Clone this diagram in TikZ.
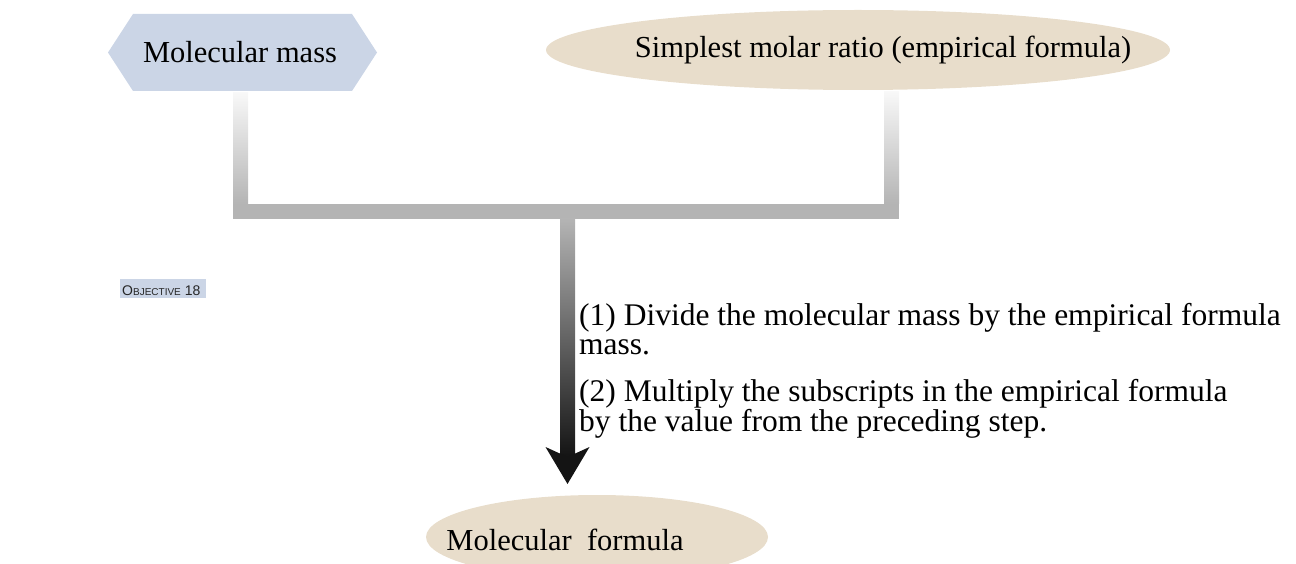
\documentclass[tikz,border=0pt]{standalone}
\usepackage{fontspec}
\setmainfont{Liberation Serif}
\newfontfamily\objfont{Liberation Sans}
\usetikzlibrary{shapes.geometric,calc}
\definecolor{hexblue}{HTML}{CBD5E6}
\definecolor{beige}{HTML}{E8DDCB}
\definecolor{bargray}{HTML}{B4B4B4}
\definecolor{barlight}{HTML}{F8F8F8}
\definecolor{arrowdark}{HTML}{141414}
\begin{document}
\begin{tikzpicture}[x=1pt,y=-1pt,
  lbl/.style={font=\fontsize{30.5}{34}\selectfont, inner sep=0pt, text=black},
  oval/.style={ellipse, fill=beige, inner sep=0pt},
  body/.style={font=\fontsize{31.5}{29.5}\selectfont, align=left, inner sep=0pt, anchor=base west, text=black}]
\useasboundingbox (0,0) rectangle (1296,564);
\clip (0,0) rectangle (1296,564);
% top-left hexagon
\fill[hexblue] (108,52.5) -- (133,14) -- (352,14) -- (377,52.5) -- (352,91) -- (133,91) -- cycle;
\node[lbl] (mm) at (240,52.5) {Molecular mass};
% top-right ellipse
\node[oval, minimum width=624, minimum height=80] (sr) at (858,50) {};
\node[lbl] (srt) at (883,50) {Simplest molar ratio (empirical formula)};
% bottom ellipse
\node[oval, minimum width=342, minimum height=84] (mf) at (597,537) {};
\node[lbl] (mft) at (565,540) {Molecular\ \ formula};
% connector coordinates
\coordinate (lb) at (240.5,93);
\coordinate (rb) at (891.5,92);
\coordinate (jl) at (240.5,211.5);
\coordinate (jr) at (891.5,211.5);
\coordinate (jc) at (567.5,219);
\coordinate (tip) at (567.5,484);
% gray connectors
\shade[top color=barlight, bottom color=bargray] ($(lb)+(-7.5,0)$) rectangle ($(jl)+(7.5,-7.5)$);
\shade[top color=barlight, bottom color=bargray] ($(rb)+(-7.5,0)$) rectangle ($(jr)+(7.5,-7.5)$);
\fill[bargray] ($(jl)+(-7.5,-7.5)$) rectangle ($(jr)+(7.5,7.5)$);
% main arrow
\shade[top color=bargray, bottom color=arrowdark] ($(jc)+(-7.5,0)$) rectangle ($(tip)+(7.5,-28)$);
\fill[arrowdark] (tip) -- ($(tip)+(-22,-37)$) -- ($(tip)+(0,-27)$) -- ($(tip)+(22,-37)$) -- cycle;
% objective tag
\node[fill=hexblue, minimum width=86, minimum height=19, inner sep=0pt, anchor=north west] (obj) at (120,279) {};
\node[anchor=base west, inner sep=0pt, text=black!85] (objt) at (122,295) {\objfont\fontsize{14}{14}\selectfont O\fontsize{10}{10}\selectfont BJECTIVE\fontsize{14}{14}\selectfont\ 18};
% steps text
\node[body] (s1) at (579,354.5) {(1) Divide the molecular mass by the empirical formula\\mass.};
\node[body] (s2) at (579,431) {(2) Multiply the subscripts in the empirical formula\\by the value from the preceding step.};
\end{tikzpicture}
\end{document}
